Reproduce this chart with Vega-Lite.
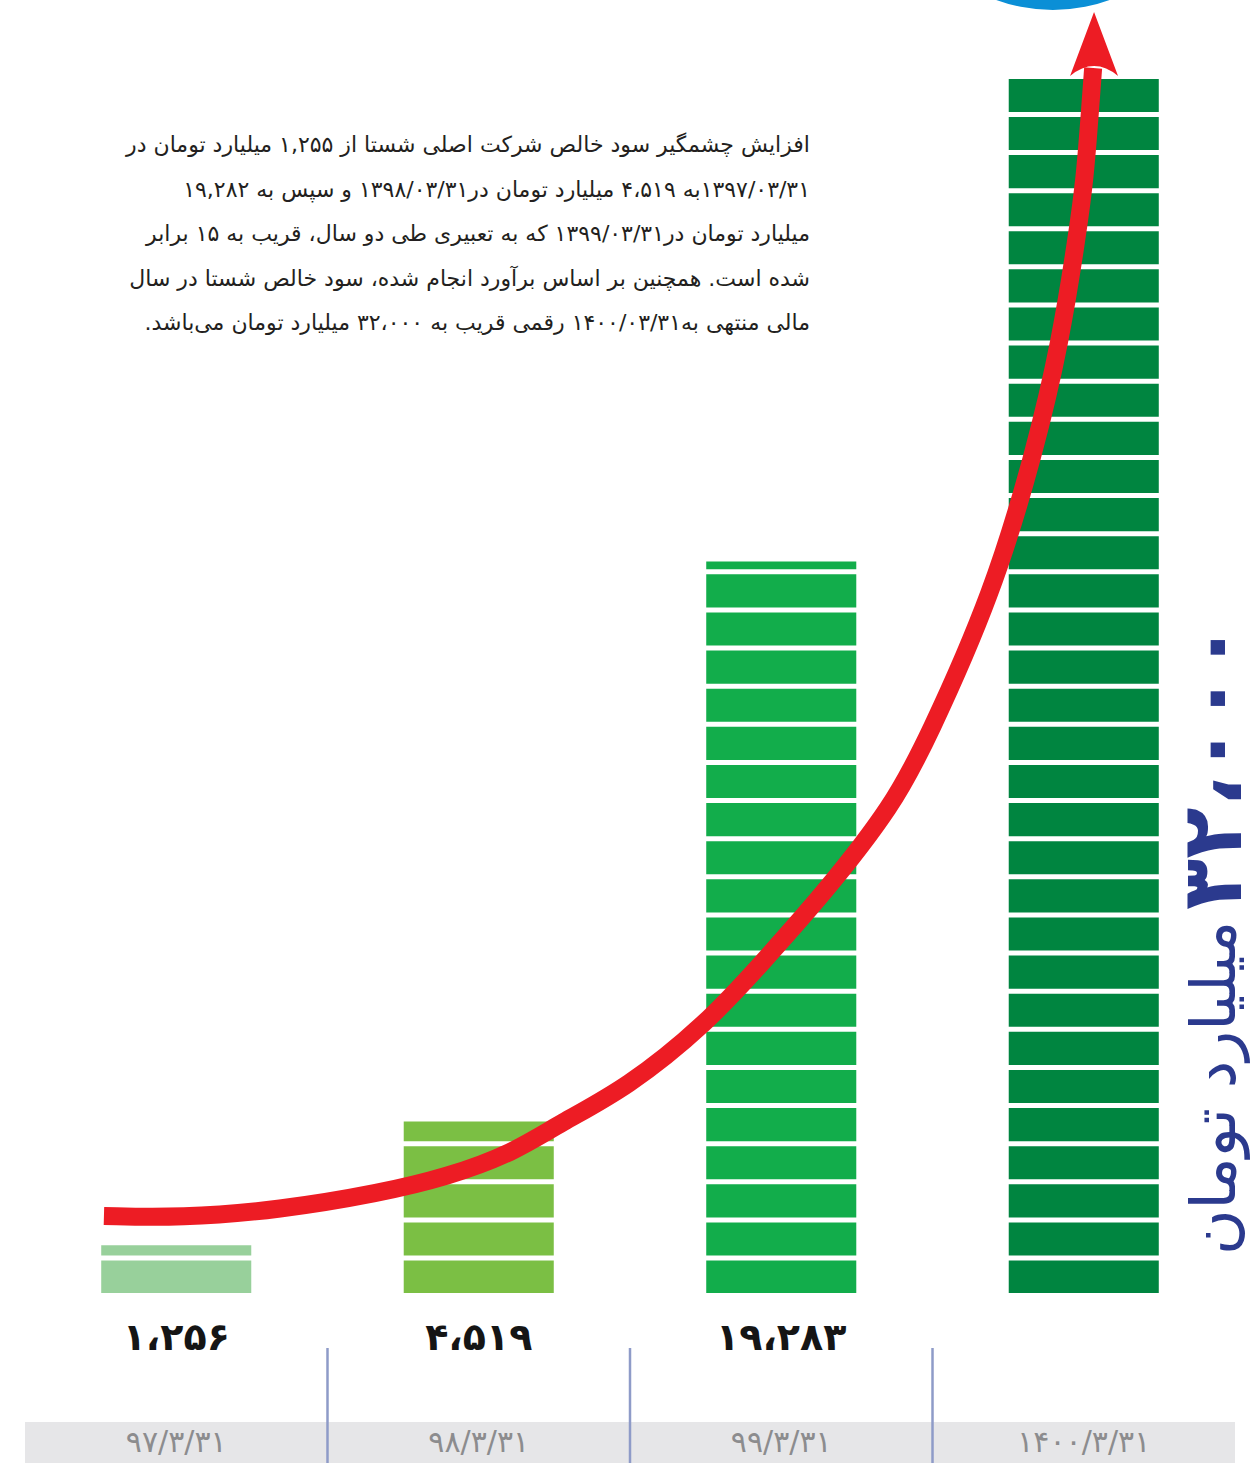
{
  "$schema": "https://vega.github.io/schema/vega-lite/v6.json",
  "width": 1260,
  "height": 1463,
  "padding": 0,
  "autosize": {"type": "none"},
  "background": "white",
  "config": {
    "view": {"stroke": null},
    "locale": {
      "number": {
        "decimal": "٫",
        "thousands": "،",
        "grouping": [3],
        "currency": ["", ""],
        "numerals": ["۰", "۱", "۲", "۳", "۴", "۵", "۶", "۷", "۸", "۹"]
      }
    }
  },
  "datasets": {
    "profits": [
      {"date": "۹۷/۳/۳۱", "profit": 1256, "estimate": false},
      {"date": "۹۸/۳/۳۱", "profit": 4519, "estimate": false},
      {"date": "۹۹/۳/۳۱", "profit": 19283, "estimate": false},
      {"date": "۱۴۰۰/۳/۳۱", "profit": 32000, "estimate": true}
    ],
    "stripes": [
      {"level": 923}, {"level": 1927}, {"level": 2932}, {"level": 3937}, {"level": 4942},
      {"level": 5947}, {"level": 6951}, {"level": 7956}, {"level": 8961}, {"level": 9966},
      {"level": 10971}, {"level": 11976}, {"level": 12980}, {"level": 13985}, {"level": 14990},
      {"level": 15995}, {"level": 17000}, {"level": 18004}, {"level": 19009}, {"level": 20014},
      {"level": 21019}, {"level": 22024}, {"level": 23029}, {"level": 24033}, {"level": 25038},
      {"level": 26043}, {"level": 27048}, {"level": 28052}, {"level": 29057}, {"level": 30062},
      {"level": 31067}
    ],
    "trend": [
      {"year": 1396.761, "value": 2030},
      {"year": 1397.012, "value": 1977},
      {"year": 1397.343, "value": 2188},
      {"year": 1397.674, "value": 2636},
      {"year": 1397.895, "value": 3058},
      {"year": 1398.113, "value": 3690},
      {"year": 1398.269, "value": 4481},
      {"year": 1398.49, "value": 5404},
      {"year": 1398.755, "value": 7117},
      {"year": 1398.93, "value": 8646},
      {"year": 1399.151, "value": 10623},
      {"year": 1399.37, "value": 12863},
      {"year": 1399.482, "value": 14576},
      {"year": 1399.7, "value": 18451},
      {"year": 1399.839, "value": 22221},
      {"year": 1399.922, "value": 25041},
      {"year": 1399.978, "value": 27861},
      {"year": 1400.004, "value": 29390},
      {"year": 1400.021, "value": 31209},
      {"year": 1400.031, "value": 32290}
    ]
  },
  "resolve": {"scale": {"x": "independent"}},
  "layer": [
    {
      "data": {"name": "profits"},
      "layer": [
        {
          "mark": {"type": "rect", "color": "#e6e6e8"},
          "encoding": {
            "x": {
              "field": "date",
              "type": "ordinal",
              "scale": {
                "domain": ["۹۷/۳/۳۱", "۹۸/۳/۳۱", "۹۹/۳/۳۱", "۱۴۰۰/۳/۳۱"],
                "paddingInner": 0,
                "paddingOuter": 0.0826
              },
              "axis": null
            },
            "y": {"datum": -3400, "type": "quantitative", "scale": {"domain": [-4481, 34082], "nice": false, "zero": false}, "axis": null},
            "y2": {"datum": -4481}
          }
        },
        {
          "mark": {"type": "bar", "width": {"band": 0.496}},
          "encoding": {
            "x": {"field": "date", "type": "ordinal"},
            "y": {
              "field": "profit",
              "type": "quantitative",
              "scale": {"domain": [-4481, 34082], "nice": false, "zero": false},
              "axis": null
            },
            "y2": {"datum": 0},
            "color": {
              "field": "date",
              "type": "nominal",
              "scale": {
                "domain": ["۹۷/۳/۳۱", "۹۸/۳/۳۱", "۹۹/۳/۳۱", "۱۴۰۰/۳/۳۱"],
                "range": ["#98d09b", "#7bbf44", "#12ad4b", "#008540"]
              },
              "legend": null
            }
          }
        },
        {
          "data": {"name": "stripes"},
          "mark": {"type": "rule", "color": "white", "strokeWidth": 5},
          "encoding": {
            "y": {
              "field": "level",
              "type": "quantitative",
              "scale": {"domain": [-4481, 34082], "nice": false, "zero": false},
              "axis": null
            }
          }
        },
        {
          "transform": [{"filter": "!datum.estimate"}],
          "mark": {
            "type": "text",
            "font": "DejaVu Sans",
            "fontWeight": "bold",
            "fontSize": 38,
            "baseline": "middle",
            "align": "center",
            "dy": 46,
            "color": "#151515"
          },
          "encoding": {
            "x": {"field": "date", "type": "ordinal"},
            "y": {"datum": 0, "type": "quantitative", "scale": {"domain": [-4481, 34082], "nice": false, "zero": false}, "axis": null},
            "text": {"field": "profit", "type": "quantitative", "format": ","}
          }
        },
        {
          "mark": {
            "type": "text",
            "font": "DejaVu Sans",
            "fontSize": 30,
            "baseline": "middle",
            "align": "center",
            "color": "#8c8c8e"
          },
          "encoding": {
            "x": {"field": "date", "type": "ordinal"},
            "y": {"datum": -3954, "type": "quantitative", "scale": {"domain": [-4481, 34082], "nice": false, "zero": false}, "axis": null},
            "text": {"field": "date", "type": "nominal"}
          }
        },
        {
          "transform": [{"filter": "datum.date !== '۹۷/۳/۳۱'"}],
          "mark": {"type": "rule", "color": "#8e9bc8", "strokeWidth": 2.5},
          "encoding": {
            "x": {"field": "date", "type": "ordinal", "bandPosition": 0},
            "y": {"datum": -1450, "type": "quantitative", "scale": {"domain": [-4481, 34082], "nice": false, "zero": false}, "axis": null},
            "y2": {"datum": -4481}
          }
        }
      ]
    },
    {
      "layer": [
        {
          "data": {"name": "profits"},
          "transform": [{"filter": "datum.estimate"}],
          "mark": {"type": "point", "shape": "circle", "filled": true, "opacity": 1, "color": "#0b8fd6", "size": 108900},
          "encoding": {
            "x": {"datum": 1399.898, "type": "quantitative", "scale": {"domain": [1396.4174, 1400.5826], "nice": false, "zero": false}, "axis": null},
            "y": {"datum": 38168, "type": "quantitative", "scale": {"domain": [-4481, 34082], "nice": false, "zero": false}, "axis": null}
          }
        },
        {
          "data": {"name": "trend"},
          "mark": {"type": "line", "color": "#ed1c24", "strokeWidth": 18, "interpolate": "basis", "strokeCap": "butt"},
          "encoding": {
            "x": {"field": "year", "type": "quantitative", "scale": {"domain": [1396.4174, 1400.5826], "nice": false, "zero": false}, "axis": null},
            "y": {"field": "value", "type": "quantitative", "scale": {"domain": [-4481, 34082], "nice": false, "zero": false}, "axis": null}
          }
        },
        {
          "data": {"name": "profits"},
          "transform": [{"filter": "datum.estimate"}],
          "mark": {"type": "point", "shape": "M0,-1L0.75,1Q0,0.38,-0.75,1Z", "filled": true, "opacity": 1, "color": "#ed1c24", "size": 4096},
          "encoding": {
            "x": {"datum": 1400.034, "type": "quantitative", "scale": {"domain": [1396.4174, 1400.5826], "nice": false, "zero": false}, "axis": null},
            "y": {"datum": 32922, "type": "quantitative", "scale": {"domain": [-4481, 34082], "nice": false, "zero": false}, "axis": null}
          }
        },
        {
          "data": {"name": "profits"},
          "transform": [{"filter": "datum.estimate"}],
          "mark": {
            "type": "text",
            "font": "DejaVu Sans",
            "fontSize": 22,
            "lineHeight": 44.6,
            "align": "right",
            "baseline": "alphabetic",
            "color": "#231f20",
            "text": [
              "\u202bافزایش چشمگیر سود خالص شرکت اصلی شستا از ۱,۲۵۵ میلیارد تومان در\u202c",
              "\u202b۱۳۹۷/۰۳/۳۱به ۴،۵۱۹ میلیارد تومان در۱۳۹۸/۰۳/۳۱ و سپس به ۱۹,۲۸۲\u202c",
              "\u202bمیلیارد تومان در۱۳۹۹/۰۳/۳۱ که به تعبیری طی دو سال، قریب به ۱۵ برابر\u202c",
              "\u202bشده است. همچنین بر اساس برآورد انجام شده، سود خالص شستا در سال\u202c",
              "\u202bمالی منتهی به۱۴۰۰/۰۳/۳۱ رقمی قریب به ۳۲،۰۰۰ میلیارد تومان می\u200cباشد.\u202c"
            ]
          },
          "encoding": {
            "x": {"datum": 1399.095, "type": "quantitative", "scale": {"domain": [1396.4174, 1400.5826], "nice": false, "zero": false}, "axis": null},
            "y": {"datum": 30075, "type": "quantitative", "scale": {"domain": [-4481, 34082], "nice": false, "zero": false}, "axis": null}
          }
        },
        {
          "data": {"name": "profits"},
          "transform": [{"filter": "datum.estimate"}],
          "mark": {
            "type": "text",
            "font": "DejaVu Sans",
            "fontWeight": "bold",
            "fontSize": 84,
            "angle": 270,
            "align": "left",
            "baseline": "middle",
            "color": "#2b3a8e"
          },
          "encoding": {
            "x": {"datum": 1400.437, "type": "quantitative", "scale": {"domain": [1396.4174, 1400.5826], "nice": false, "zero": false}, "axis": null},
            "y": {"datum": 10095, "type": "quantitative", "scale": {"domain": [-4481, 34082], "nice": false, "zero": false}, "axis": null},
            "text": {"field": "profit", "type": "quantitative", "format": ","}
          }
        },
        {
          "data": {"name": "profits"},
          "transform": [{"filter": "datum.estimate"}],
          "mark": {
            "type": "text",
            "font": "DejaVu Sans",
            "fontSize": 62,
            "angle": 270,
            "align": "left",
            "baseline": "middle",
            "color": "#2b3a8e",
            "text": "میلیارد تومان"
          },
          "encoding": {
            "x": {"datum": 1400.437, "type": "quantitative", "scale": {"domain": [1396.4174, 1400.5826], "nice": false, "zero": false}, "axis": null},
            "y": {"datum": 1002, "type": "quantitative", "scale": {"domain": [-4481, 34082], "nice": false, "zero": false}, "axis": null}
          }
        }
      ]
    }
  ]
}
